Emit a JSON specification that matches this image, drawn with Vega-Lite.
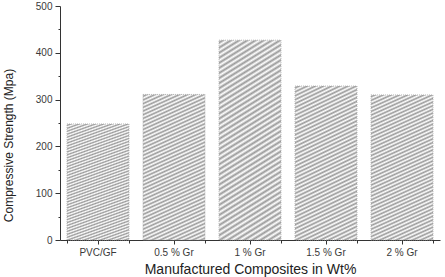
{
  "$schema": "https://vega.github.io/schema/vega-lite/v6.json",
  "width": 380,
  "height": 234,
  "autosize": {"type": "none"},
  "padding": {"left": 60, "top": 6, "right": 5, "bottom": 37},
  "config": {
    "view": {"stroke": null},
    "font": "Liberation Sans",
    "axis": {
      "grid": false,
      "domainColor": "#333",
      "tickColor": "#333",
      "labelColor": "#3a3a3a",
      "titleColor": "#222",
      "labelFontSize": 10,
      "titleFontWeight": "normal"
    }
  },
  "data": {
    "values": [
      {"c": "PVC/GF", "v": 248},
      {"c": "0.5 % Gr", "v": 311},
      {"c": "1 % Gr", "v": 427},
      {"c": "1.5 % Gr", "v": 329},
      {"c": "2 % Gr", "v": 310}
    ]
  },
  "layer": [
    {
      "mark": {
        "type": "bar",
        "stroke": "#aaa",
        "strokeWidth": 0.8,
        "strokeDash": [1, 1],
        "fill": {
          "gradient": "linear",
          "x1": 0, "y1": 0, "x2": 0.2216, "y2": 1.15,
          "stops": [
            {"offset": 0, "color": "#fff"},
            {"offset": 0.0106, "color": "#999"},
            {"offset": 0.0213, "color": "#fff"},
            {"offset": 0.0319, "color": "#999"},
            {"offset": 0.0426, "color": "#fff"},
            {"offset": 0.0532, "color": "#999"},
            {"offset": 0.0638, "color": "#fff"},
            {"offset": 0.0745, "color": "#999"},
            {"offset": 0.0851, "color": "#fff"},
            {"offset": 0.0957, "color": "#999"},
            {"offset": 0.1064, "color": "#fff"},
            {"offset": 0.1170, "color": "#999"},
            {"offset": 0.1277, "color": "#fff"},
            {"offset": 0.1383, "color": "#999"},
            {"offset": 0.1489, "color": "#fff"},
            {"offset": 0.1596, "color": "#999"},
            {"offset": 0.1702, "color": "#fff"},
            {"offset": 0.1809, "color": "#999"},
            {"offset": 0.1915, "color": "#fff"},
            {"offset": 0.2021, "color": "#999"},
            {"offset": 0.2128, "color": "#fff"},
            {"offset": 0.2234, "color": "#999"},
            {"offset": 0.2340, "color": "#fff"},
            {"offset": 0.2447, "color": "#999"},
            {"offset": 0.2553, "color": "#fff"},
            {"offset": 0.2660, "color": "#999"},
            {"offset": 0.2766, "color": "#fff"},
            {"offset": 0.2872, "color": "#999"},
            {"offset": 0.2979, "color": "#fff"},
            {"offset": 0.3085, "color": "#999"},
            {"offset": 0.3191, "color": "#fff"},
            {"offset": 0.3298, "color": "#999"},
            {"offset": 0.3404, "color": "#fff"},
            {"offset": 0.3511, "color": "#999"},
            {"offset": 0.3617, "color": "#fff"},
            {"offset": 0.3723, "color": "#999"},
            {"offset": 0.3830, "color": "#fff"},
            {"offset": 0.3936, "color": "#999"},
            {"offset": 0.4043, "color": "#fff"},
            {"offset": 0.4149, "color": "#999"},
            {"offset": 0.4255, "color": "#fff"},
            {"offset": 0.4362, "color": "#999"},
            {"offset": 0.4468, "color": "#fff"},
            {"offset": 0.4574, "color": "#999"},
            {"offset": 0.4681, "color": "#fff"},
            {"offset": 0.4787, "color": "#999"},
            {"offset": 0.4894, "color": "#fff"},
            {"offset": 0.5, "color": "#999"},
            {"offset": 0.5106, "color": "#fff"},
            {"offset": 0.5213, "color": "#999"},
            {"offset": 0.5319, "color": "#fff"},
            {"offset": 0.5426, "color": "#999"},
            {"offset": 0.5532, "color": "#fff"},
            {"offset": 0.5638, "color": "#999"},
            {"offset": 0.5745, "color": "#fff"},
            {"offset": 0.5851, "color": "#999"},
            {"offset": 0.5957, "color": "#fff"},
            {"offset": 0.6064, "color": "#999"},
            {"offset": 0.6170, "color": "#fff"},
            {"offset": 0.6277, "color": "#999"},
            {"offset": 0.6383, "color": "#fff"},
            {"offset": 0.6489, "color": "#999"},
            {"offset": 0.6596, "color": "#fff"},
            {"offset": 0.6702, "color": "#999"},
            {"offset": 0.6809, "color": "#fff"},
            {"offset": 0.6915, "color": "#999"},
            {"offset": 0.7021, "color": "#fff"},
            {"offset": 0.7128, "color": "#999"},
            {"offset": 0.7234, "color": "#fff"},
            {"offset": 0.7340, "color": "#999"},
            {"offset": 0.7447, "color": "#fff"},
            {"offset": 0.7553, "color": "#999"},
            {"offset": 0.7660, "color": "#fff"},
            {"offset": 0.7766, "color": "#999"},
            {"offset": 0.7872, "color": "#fff"},
            {"offset": 0.7979, "color": "#999"},
            {"offset": 0.8085, "color": "#fff"},
            {"offset": 0.8191, "color": "#999"},
            {"offset": 0.8298, "color": "#fff"},
            {"offset": 0.8404, "color": "#999"},
            {"offset": 0.8511, "color": "#fff"},
            {"offset": 0.8617, "color": "#999"},
            {"offset": 0.8723, "color": "#fff"},
            {"offset": 0.8830, "color": "#999"},
            {"offset": 0.8936, "color": "#fff"},
            {"offset": 0.9043, "color": "#999"},
            {"offset": 0.9149, "color": "#fff"},
            {"offset": 0.9255, "color": "#999"},
            {"offset": 0.9362, "color": "#fff"},
            {"offset": 0.9468, "color": "#999"},
            {"offset": 0.9574, "color": "#fff"},
            {"offset": 0.9681, "color": "#999"},
            {"offset": 0.9787, "color": "#fff"},
            {"offset": 0.9894, "color": "#999"},
            {"offset": 1, "color": "#fff"}
          ]
        }
      },
      "encoding": {
        "x": {
          "field": "c",
          "type": "nominal",
          "sort": null,
          "scale": {"paddingInner": 0.184, "paddingOuter": 0.092},
          "axis": {
            "title": "Manufactured Composites in Wt%",
            "titleFontSize": 14,
            "titleY": 22,
            "titleBaseline": "top",
            "labelAngle": 0,
            "tickSize": 4,
            "labelPadding": 3
          }
        },
        "y": {
          "field": "v",
          "type": "quantitative",
          "scale": {"domain": [0, 500]},
          "axis": {
            "title": "Compressive Strength (Mpa)",
            "titleFontSize": 12,
            "values": [0, 100, 200, 300, 400, 500],
            "tickSize": 5,
            "labelPadding": 3,
            "titleAngle": -90,
            "titleX": -45,
            "titleY": 139,
            "titleAlign": "center",
            "titleBaseline": "bottom"
          }
        }
      }
    },
    {
      "mark": {"type": "bar", "opacity": 0},
      "encoding": {
        "x": {
          "field": "c",
          "type": "nominal",
          "sort": null,
          "axis": {
            "orient": "bottom",
            "tickBand": "extent",
            "labels": false,
            "domain": false,
            "title": null,
            "tickSize": 3
          }
        },
        "y": {
          "field": "v",
          "type": "quantitative",
          "axis": {
            "orient": "left",
            "values": [50, 150, 250, 350, 450],
            "labels": false,
            "domain": false,
            "title": null,
            "tickSize": 2
          }
        }
      }
    }
  ],
  "resolve": {"axis": {"x": "independent", "y": "independent"}}
}
